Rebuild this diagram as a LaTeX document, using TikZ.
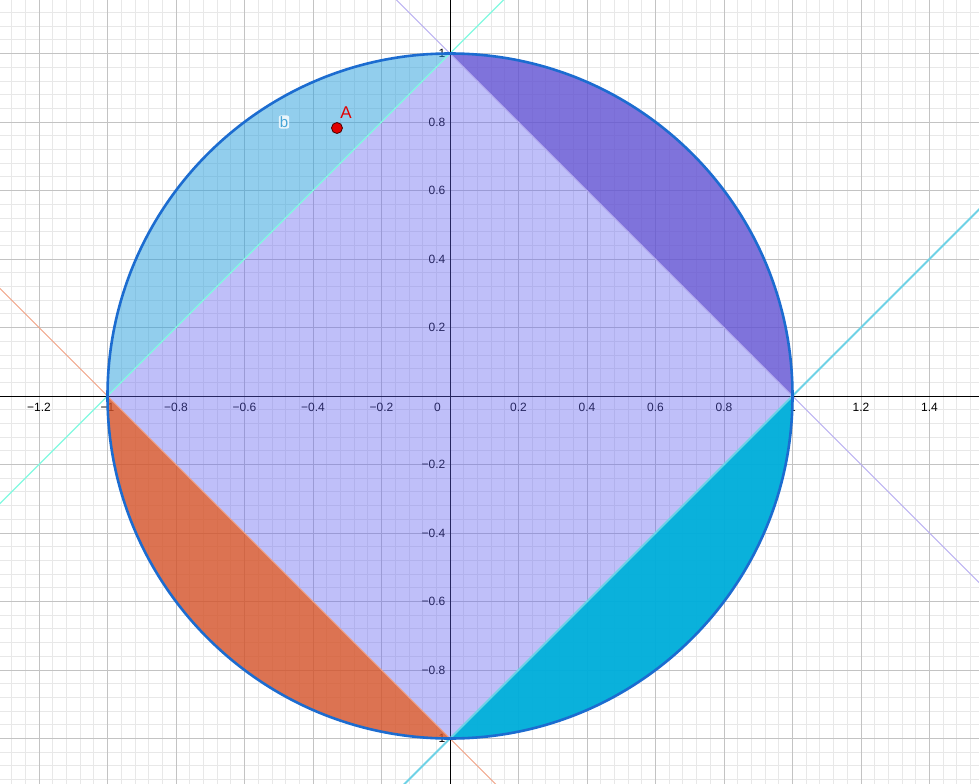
\documentclass[tikz,border=0pt]{standalone}
\usepackage{fontspec}
\setmainfont{Liberation Sans}
\usetikzlibrary{calc}
\definecolor{gridminor}{RGB}{232,232,232}
\definecolor{gridmajor}{RGB}{195,195,195}
\definecolor{diamondc}{RGB}{97,97,242}
\definecolor{segtl}{RGB}{39,159,221}
\definecolor{segtr}{RGB}{96,80,210}
\definecolor{segbl}{RGB}{212,81,39}
\definecolor{segbr}{RGB}{0,174,218}
\definecolor{circc}{RGB}{28,108,208}
\definecolor{lineNE}{RGB}{180,170,240}
\definecolor{lineNW}{RGB}{130,250,225}
\definecolor{lineSW}{RGB}{240,160,130}
\definecolor{lineSE}{RGB}{110,210,230}
\definecolor{pointc}{RGB}{225,0,0}
\definecolor{labb}{RGB}{70,165,215}
\tikzset{
  ticklab/.style={inner sep=0pt, font=\fontsize{12}{14}\selectfont, text=black},
}
\begin{document}
\begin{tikzpicture}[x=342.5pt,y=342.5pt]
\useasboundingbox (-1.31387,-1.12993) rectangle (1.54453,1.15620);
\coordinate (O) at (0,0);
\coordinate (E) at (1,0);
\coordinate (N) at (0,1);
\coordinate (W) at (-1,0);
\coordinate (S) at (0,-1);
\begin{scope}
\clip (-1.31387,-1.12993) rectangle (1.54453,1.15620);
\fill[white] (-1.4,-1.2) rectangle (1.6,1.2);
\draw[gridminor, line width=0.8pt, step=0.04] (-1.32,-1.16) grid (1.56,1.16);
\draw[gridmajor, line width=0.8pt, step=0.2] (-1.4,-1.2) grid (1.6,1.2);
% axes
\draw[black, line width=1pt] (-1.4,0) -- (1.6,0);
\draw[black, line width=1pt] (0,-1.2) -- (0,1.2);
% tick labels
\foreach \v/\t in {-1.2/−1.2,-1/−1,-0.8/−0.8,-0.6/−0.6,-0.4/−0.4,-0.2/−0.2,0.2/0.2,0.4/0.4,0.6/0.6,0.8/0.8,1/1,1.2/1.2,1.4/1.4}
  \node[ticklab, anchor=north] at (\v,-0.0205) {\t};
\foreach \v/\t in {-1/−1,-0.8/−0.8,-0.6/−0.6,-0.4/−0.4,-0.2/−0.2,0.2/0.2,0.4/0.4,0.6/0.6,0.8/0.8,1/1}
  \node[ticklab, anchor=east] at (-0.013,\v) {\t};
\node[ticklab, anchor=north east] at (-0.026,-0.0205) {0};
% fills
\fill[diamondc, fill opacity=0.4] (E) -- (N) -- (W) -- (S) -- cycle;
\fill[segtl, fill opacity=0.5] (N) arc[start angle=90, end angle=180, radius=1] -- cycle;
\fill[segtr, fill opacity=0.8] (E) arc[start angle=0, end angle=90, radius=1] -- cycle;
\fill[segbl, fill opacity=0.8] (W) arc[start angle=180, end angle=270, radius=1] -- cycle;
\fill[segbr, fill opacity=0.96] (S) arc[start angle=270, end angle=360, radius=1] -- cycle;
% lines
\draw[lineNE, line width=1pt] ($(N)!-2!(E)$) -- ($(E)!-2!(N)$);
\draw[lineNW, line width=1.2pt] ($(W)!-2!(N)$) -- ($(N)!-2!(W)$);
\draw[lineSW, line width=1pt] ($(W)!-2!(S)$) -- ($(S)!-2!(W)$);
\draw[lineSE, line width=2pt] ($(S)!-2!(E)$) -- ($(E)!-2!(S)$);
% circle
\draw[circc, line width=2.6pt] (O) circle[radius=1];
% point A
\node[circle, fill=pointc, draw=black!70!red, line width=0.8pt, minimum size=11pt, inner sep=0pt] (A) at (-0.33,0.7825) {};
\node[text=pointc, inner sep=0pt, font=\fontsize{17}{20}\selectfont] (Alab) at (-0.3036,0.8263) {A};
\node[text=labb, fill=white, fill opacity=0.8, text opacity=1, rounded corners=2pt, inner sep=1pt, font=\fontsize{15}{18}\selectfont] (blab) at (-0.4847,0.8) {b};
\end{scope}
\end{tikzpicture}
\end{document}
